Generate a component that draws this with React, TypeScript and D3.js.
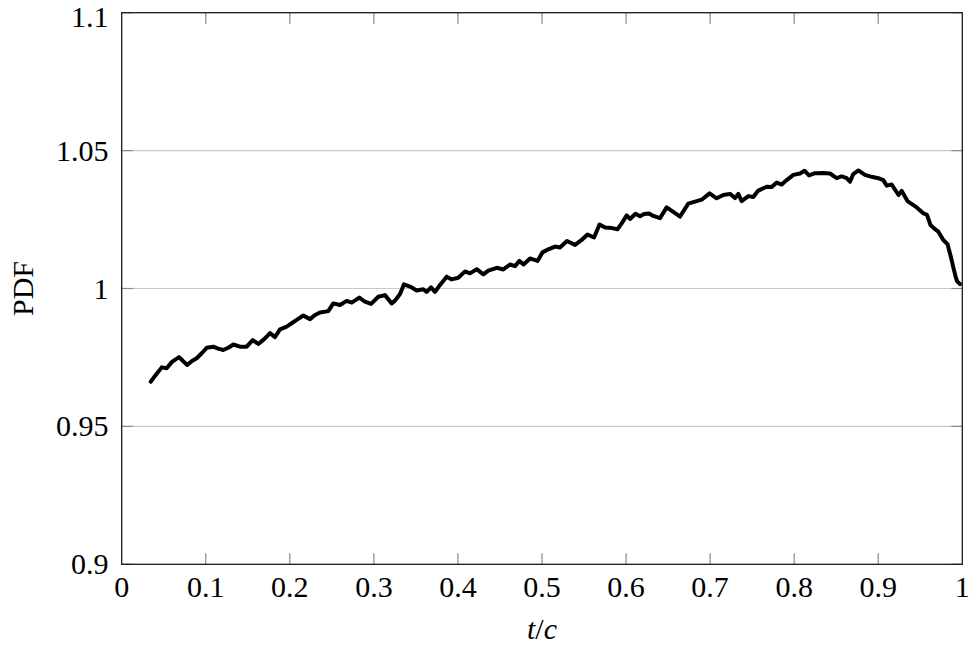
import React from 'react';
import * as d3 from 'd3';

// t/c positions
const tcValues: number[] = [
  0.0345, 0.0396, 0.0476, 0.0535, 0.0598, 0.0682, 0.0729, 0.0780, 0.0836, 0.0892,
  0.0955, 0.1011, 0.1090, 0.1146, 0.1209, 0.1268, 0.1328, 0.1407, 0.1487, 0.1558,
  0.1625, 0.1705, 0.1764, 0.1824, 0.1883, 0.1963, 0.2022, 0.2082, 0.2160, 0.2240,
  0.2300, 0.2359, 0.2458, 0.2517, 0.2597, 0.2677, 0.2736, 0.2827, 0.2894, 0.2966,
  0.3053, 0.3132, 0.3212, 0.3251, 0.3311, 0.3358, 0.3430, 0.3509, 0.3588, 0.3628,
  0.3680, 0.3727, 0.3787, 0.3866, 0.3926, 0.4004, 0.4084, 0.4143, 0.4223, 0.4302,
  0.4361, 0.4461, 0.4540, 0.4619, 0.4679, 0.4732, 0.4780, 0.4857, 0.4946, 0.5006,
  0.5075, 0.5155, 0.5214, 0.5297, 0.5393, 0.5472, 0.5541, 0.5619, 0.5684, 0.5750,
  0.5833, 0.5898, 0.5948, 0.6008, 0.6047, 0.6112, 0.6166, 0.6213, 0.6273, 0.6324,
  0.6404, 0.6483, 0.6562, 0.6642, 0.6740, 0.6820, 0.6900, 0.6993, 0.7078, 0.7157,
  0.7237, 0.7296, 0.7335, 0.7376, 0.7454, 0.7514, 0.7573, 0.7673, 0.7733, 0.7792,
  0.7852, 0.7911, 0.7990, 0.8069, 0.8123, 0.8176, 0.8248, 0.8343, 0.8426, 0.8506,
  0.8565, 0.8625, 0.8664, 0.8703, 0.8763, 0.8842, 0.8922, 0.9001, 0.9060, 0.9101,
  0.9160, 0.9241, 0.9279, 0.9348, 0.9458, 0.9536, 0.9580, 0.9622, 0.9663, 0.9715,
  0.9774, 0.9824, 0.9866, 0.9895, 0.9919, 0.9937, 0.9973,
];

const pdfValues: number[] = [
  0.9662, 0.9683, 0.9714, 0.9711, 0.9734, 0.9751, 0.9737, 0.9723, 0.9737, 0.9747,
  0.9766, 0.9785, 0.9789, 0.9782, 0.9777, 0.9785, 0.9797, 0.9789, 0.9789, 0.9813,
  0.9799, 0.9819, 0.9838, 0.9824, 0.9852, 0.9862, 0.9874, 0.9886, 0.9902, 0.9889,
  0.9904, 0.9913, 0.9918, 0.9946, 0.9940, 0.9955, 0.9949, 0.9967, 0.9952, 0.9944,
  0.9970, 0.9976, 0.9946, 0.9956, 0.9980, 1.0015, 1.0007, 0.9993, 0.9997, 0.9988,
  1.0004, 0.9988, 1.0013, 1.0043, 1.0033, 1.0039, 1.0062, 1.0055, 1.0070, 1.0051,
  1.0065, 1.0075, 1.0069, 1.0087, 1.0081, 1.0100, 1.0087, 1.0109, 1.0100, 1.0131,
  1.0142, 1.0152, 1.0149, 1.0172, 1.0158, 1.0176, 1.0196, 1.0185, 1.0232, 1.0221,
  1.0219, 1.0215, 1.0236, 1.0265, 1.0252, 1.0271, 1.0262, 1.0270, 1.0272, 1.0263,
  1.0255, 1.0294, 1.0278, 1.0261, 1.0308, 1.0315, 1.0322, 1.0345, 1.0327, 1.0339,
  1.0343, 1.0328, 1.0343, 1.0317, 1.0335, 1.0332, 1.0355, 1.0369, 1.0368, 1.0384,
  1.0377, 1.0393, 1.0412, 1.0417, 1.0427, 1.0410, 1.0418, 1.0419, 1.0417, 1.0400,
  1.0407, 1.0400, 1.0387, 1.0415, 1.0428, 1.0412, 1.0405, 1.0400, 1.0393, 1.0373,
  1.0377, 1.0339, 1.0354, 1.0317, 1.0294, 1.0273, 1.0267, 1.0230, 1.0218, 1.0206,
  1.0176, 1.0161, 1.0112, 1.0074, 1.0045, 1.0027, 1.0016,
];

const xTicks = [0, 0.1, 0.2, 0.3, 0.4, 0.5, 0.6, 0.7, 0.8, 0.9, 1];
const xTickLabels = ['0', '0.1', '0.2', '0.3', '0.4', '0.5', '0.6', '0.7', '0.8', '0.9', '1'];
const yTicks = [0.9, 0.95, 1, 1.05, 1.1];
const yTickLabels = ['0.9', '0.95', '1', '1.05', '1.1'];

const W = 971;
const H = 649;
const left = 121.7;
const right = 962.3;
const top = 12.7;
const bottom = 564.3;
const font = '"Liberation Serif", "DejaVu Serif", serif';

export default function App() {
  const x = d3.scaleLinear().domain([0, 1]).range([left, right]);
  const y = d3.scaleLinear().domain([0.9, 1.1]).range([bottom, top]);

  const points: [number, number][] = tcValues.map((t, i) => [t, pdfValues[i]]);
  const line = d3.line<[number, number]>()
    .x(d => x(d[0]))
    .y(d => y(d[1]))
    .curve(d3.curveLinear);

  const tickLen = 11;

  return (
    <>
      <style>{'body{margin:0}'}</style>
      <svg width={W} height={H} style={{ display: 'block', background: '#fff' }}>
        {/* horizontal grid */}
        {yTicks.slice(1, -1).map(v => (
          <line key={'g' + v} x1={left} x2={right} y1={y(v)} y2={y(v)} stroke="#c8c8c8" strokeWidth={1.2} />
        ))}
        {/* y ticks, both sides */}
        {yTicks.map(v => (
          <g key={'yt' + v}>
            <line x1={left} x2={left + tickLen} y1={y(v)} y2={y(v)} stroke="#8a8a8a" strokeWidth={1.2} />
            <line x1={right - tickLen} x2={right} y1={y(v)} y2={y(v)} stroke="#8a8a8a" strokeWidth={1.2} />
          </g>
        ))}
        {/* x ticks, both sides */}
        {xTicks.slice(1, -1).map(v => (
          <g key={'xt' + v}>
            <line x1={x(v)} x2={x(v)} y1={bottom} y2={bottom - tickLen} stroke="#8a8a8a" strokeWidth={1.2} />
            <line x1={x(v)} x2={x(v)} y1={top} y2={top + tickLen} stroke="#8a8a8a" strokeWidth={1.2} />
          </g>
        ))}

        <path d={line(points) || ''} fill="none" stroke="#000" strokeWidth={4} strokeLinejoin="round" strokeLinecap="round" />

        <rect x={left} y={top} width={right - left} height={bottom - top} fill="none" stroke="#1a1a1a" strokeWidth={1.3} />

        {/* tick labels */}
        {xTicks.map((v, i) => (
          <text key={'xl' + v} x={x(v)} y={597} textAnchor="middle" fontFamily={font} fontSize={30} fill="#000">
            {xTickLabels[i]}
          </text>
        ))}
        {yTicks.map((v, i) => (
          <text key={'yl' + v} x={108.5} y={Math.max(y(v) + 10, 27)} textAnchor="end" fontFamily={font} fontSize={30} fill="#000">
            {yTickLabels[i]}
          </text>
        ))}

        {/* axis labels */}
        <text x={(left + right) / 2} y={639} textAnchor="middle" fontFamily={font} fontSize={30} fill="#000">
          <tspan fontStyle="italic">t</tspan>
          <tspan>/</tspan>
          <tspan fontStyle="italic">c</tspan>
        </text>
        <text transform={`translate(33, ${(top + bottom) / 2}) rotate(-90)`} textAnchor="middle" fontFamily={font} fontSize={30} fill="#000">
          PDF
        </text>
      </svg>
    </>
  );
}
